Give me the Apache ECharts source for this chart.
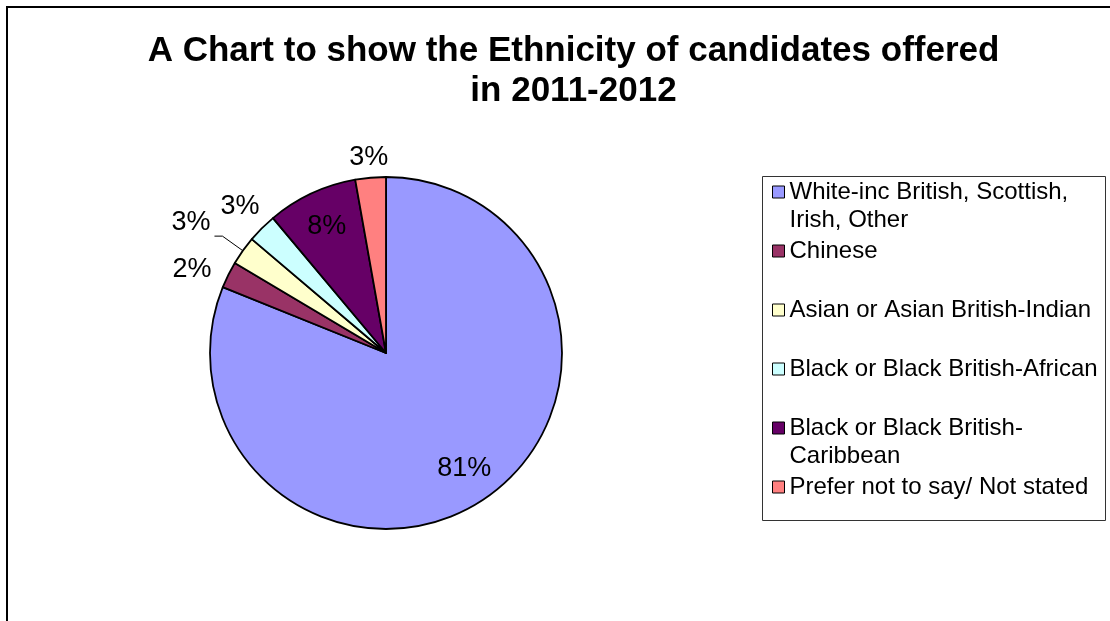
<!DOCTYPE html>
<html><head><meta charset="utf-8">
<script src="https://cdn.jsdelivr.net/npm/echarts@6/dist/echarts.min.js"></script>
<style>html,body{margin:0;padding:0;background:#fff}#c{width:1110px;height:621px}</style>
</head><body><div id="c"></div>
<script>
const categories = [
  'White-inc British, Scottish, Irish, Other',
  'Chinese',
  'Asian or Asian British-Indian',
  'Black or Black British-African',
  'Black or Black British-Caribbean',
  'Prefer not to say/ Not stated'
];
const shares = [81.1, 2.45, 2.65, 2.7, 8.3, 2.8];
const colors = ['#9999FF', '#993366', '#FFFFCC', '#CCFFFF', '#660066', '#FF8080'];
const titleText = 'A Chart to show the Ethnicity of candidates offered\nin 2011-2012';

const FONT = 'Liberation Sans, Arial, sans-serif';
const chart = echarts.init(document.getElementById('c'));

function wrapName(n) {
  return n.replace('Scottish, ', 'Scottish,\n').replace('British-Caribbean', 'British-\nCaribbean');
}
// two-line entries get a leading empty line so the marker sits beside the first line
function legendText(n) {
  const w = wrapName(n);
  return w.indexOf('\n') >= 0 ? '\n' + w : w;
}
const legendTops = [150, 237, 296, 355, 386, 473];
const legends = categories.map((n, i) => ({
  data: [n], orient: 'vertical', left: 772, top: legendTops[i], padding: 0,
  itemWidth: 12, itemHeight: 12, selectedMode: false, icon: 'rect',
  itemStyle: { borderColor: '#000', borderWidth: 1 },
  formatter: legendText,
  textStyle: { fontSize: 24, lineHeight: 28, fontFamily: FONT, color: '#000' }
}));

const lineCfg = [
  { show: false }, { show: false, length: 11, length2: 2 }, { show: true, length: 25, length2: 8 },
  { show: false, length: 31, length2: 0 }, { show: false }, { show: false, length: 20, length2: 0 }
];
const labelDist = [0, 5, 4, 0, 0, 0];

chart.setOption({
  animation: false,
  title: {
    text: titleText, left: 573.5, textAlign: 'center', top: 31, padding: 0,
    textStyle: { fontSize: 35, fontWeight: 'bold', fontFamily: FONT, lineHeight: 40, color: '#000' }
  },
  legend: legends,
  graphic: [
    { type: 'rect', silent: true, z: -10, shape: { x: 7, y: 7, width: 1300, height: 800 }, style: { fill: null, stroke: '#000', lineWidth: 2 } },
    { type: 'rect', silent: true, shape: { x: 762.5, y: 176.5, width: 343, height: 344 }, style: { fill: null, stroke: '#333', lineWidth: 1 } }
  ],
  series: [
    {
      type: 'pie', center: [386, 353], radius: 176, startAngle: 90, clockwise: true,
      avoidLabelOverlap: false, emphasis: { disabled: true },
      itemStyle: { borderColor: '#000', borderWidth: 1.8 },
      label: { show: true, position: 'outside', fontSize: 27, fontFamily: FONT, color: '#000',
        formatter: p => Math.round(p.percent) + '%' },
      labelLine: { show: false, lineStyle: { color: '#000', width: 1 } },
      labelLayout: function (p) {
        if (p.dataIndex === 3 || p.dataIndex === 5) return { align: 'center' };
        if (p.dataIndex === 2) return { verticalAlign: 'bottom' };
        return {};
      },
      data: categories.map((n, i) => ({
        name: n, value: shares[i], itemStyle: { color: colors[i] },
        label: { show: i !== 0 && i !== 4, distanceToLabelLine: labelDist[i] },
        labelLine: lineCfg[i]
      }))
    },
    {
      type: 'pie', center: [386, 353], radius: 274, startAngle: 90, clockwise: true, silent: true,
      avoidLabelOverlap: false, emphasis: { disabled: true }, legendHoverLink: false,
      itemStyle: { color: 'rgba(0,0,0,0)', borderWidth: 0 },
      label: { show: true, position: 'inside', fontSize: 27, fontFamily: FONT, color: '#000',
        formatter: p => Math.round(p.percent) + '%' },
      labelLine: { show: false },
      data: categories.map((n, i) => ({
        name: n, value: shares[i],
        label: { show: i === 0 || i === 4 }
      }))
    }
  ]
});
</script>
</body></html>
